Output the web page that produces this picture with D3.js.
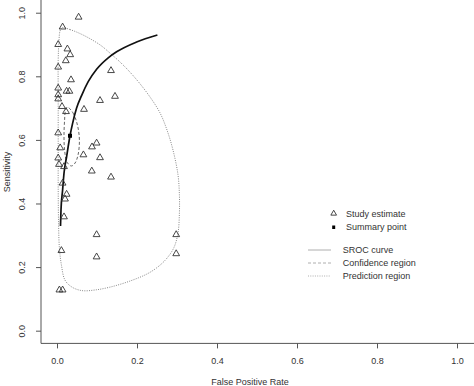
<!DOCTYPE html>
<html>
<head>
<meta charset="utf-8">
<script src="https://cdn.jsdelivr.net/npm/d3@7"></script>
<style>
  body { margin: 0; background: #fff; }
  svg { display: block; }
  text { font-family: "Liberation Sans", Arial, sans-serif; fill: #333; }
</style>
</head>
<body>
<div id="chart"></div>
<script>
// study estimates (false positive rate, sensitivity)
var studyFpr = [0.054, 0.014, 0.003, 0.026, 0.033, 0.022, 0.003, 0.135, 0.035, 0.003,
  0.024, 0.031, 0.003, 0.003, 0.145, 0.1075, 0.0125, 0.0675, 0.0225, 0.003,
  0.099, 0.0875, 0.008, 0.066, 0.1075, 0.003, 0.005, 0.0175, 0.087, 0.135,
  0.014, 0.024, 0.02, 0.0175, 0.099, 0.298, 0.011, 0.099, 0.298, 0.006, 0.014];
var studySens = [0.986, 0.955, 0.90, 0.886, 0.868, 0.849, 0.829, 0.818, 0.789, 0.763,
  0.753, 0.753, 0.742, 0.729, 0.737, 0.724, 0.705, 0.696, 0.689, 0.622,
  0.590, 0.578, 0.575, 0.553, 0.544, 0.543, 0.523, 0.516, 0.502, 0.483,
  0.464, 0.429, 0.414, 0.358, 0.302, 0.302, 0.252, 0.232, 0.242, 0.128, 0.128];

var summaryFpr = 0.0325;
var summarySens = 0.613;

// SROC curve
var srocFpr = [0.00875, 0.010, 0.014, 0.0175, 0.024, 0.0325, 0.039, 0.049, 0.062, 0.078,
  0.099, 0.128, 0.149, 0.199, 0.251];
var srocSens = [0.329, 0.380, 0.442, 0.495, 0.547, 0.613, 0.652, 0.700, 0.741, 0.783,
  0.822, 0.858, 0.877, 0.908, 0.930];

// confidence region
var confFpr = [0.026, 0.040, 0.051, 0.056, 0.0525, 0.045, 0.036, 0.025, 0.019, 0.0175, 0.019, 0.021];
var confSens = [0.703, 0.685, 0.647, 0.600, 0.552, 0.527, 0.518, 0.530, 0.568, 0.615, 0.663, 0.691];

// prediction region
var predFpr = [0.0125, 0.0325, 0.065, 0.1075, 0.1325, 0.165, 0.20, 0.2325, 0.2575, 0.275,
  0.29, 0.3025, 0.306, 0.306, 0.3025, 0.2925, 0.2775, 0.2575, 0.2275, 0.18,
  0.1325, 0.095, 0.0625, 0.0375, 0.02, 0.011, 0.006, 0.004, 0.003, 0.003,
  0.003, 0.003, 0.005, 0.0075];
var predSens = [0.953, 0.947, 0.930, 0.899, 0.873, 0.836, 0.788, 0.735, 0.685, 0.631,
  0.568, 0.490, 0.427, 0.370, 0.307, 0.262, 0.232, 0.206, 0.180, 0.155,
  0.137, 0.128, 0.126, 0.137, 0.159, 0.207, 0.260, 0.332, 0.442, 0.569,
  0.726, 0.851, 0.914, 0.942];

var ticks = [0, 0.2, 0.4, 0.6, 0.8, 1.0];
var pointLegend = ["Study estimate", "Summary point"];
var lineLegend = ["SROC curve", "Confidence region", "Prediction region"];

var svgWidth = 474;
var svgHeight = 386;

var svg = d3.select("#chart")
  .append("svg")
  .attr("width", svgWidth)
  .attr("height", svgHeight);

var xScale = d3.scaleLinear().domain([-0.04, 1.04]).range([41, 473]);
var yScale = d3.scaleLinear().domain([-0.04, 1.04]).range([343.4, 0]);

// axes
var xaxis = d3.axisBottom(xScale).tickValues(ticks).tickFormat(d3.format(".1f"))
  .tickSizeOuter(0).tickSize(5).tickPadding(9.5);
var yaxis = d3.axisLeft(yScale).tickValues(ticks).tickFormat(d3.format(".1f"))
  .tickSizeOuter(0).tickSize(5);

var gx = svg.append("g")
  .attr("transform", "translate(0," + 343.4 + ")")
  .call(xaxis);
gx.select(".domain").attr("d", "M41,0H474");

var gy = svg.append("g")
  .attr("transform", "translate(41,0)")
  .call(yaxis);
gy.select(".domain").attr("d", "M0,0V343.4");

svg.selectAll(".domain, .tick line").attr("stroke", "#555").attr("stroke-width", 1);
gx.selectAll("text").style("font-size", "9px").attr("fill", "#333");
gy.selectAll(".tick text")
  .style("font-size", "9px")
  .attr("fill", "#333")
  .attr("transform", "rotate(-90)")
  .attr("x", 0)
  .attr("y", -16)
  .attr("dy", 0)
  .attr("text-anchor", "middle");

// axis labels
svg.append("text")
  .attr("transform", "translate(10,172) rotate(-90)")
  .attr("text-anchor", "middle")
  .style("font-size", "9px")
  .text("Sensitivity");

svg.append("text")
  .attr("x", 250)
  .attr("y", 385)
  .attr("text-anchor", "middle")
  .style("font-size", "9px")
  .text("False Positive Rate");

var line = d3.line()
  .x(d => xScale(d[0]))
  .y(d => yScale(d[1]));

// prediction region
svg.append("path")
  .attr("d", line.curve(d3.curveCatmullRomClosed.alpha(0.5))(predFpr.map((f, i) => [f, predSens[i]])))
  .attr("fill", "none")
  .attr("stroke", "#888")
  .attr("stroke-width", 1)
  .attr("stroke-dasharray", "1,1.3");

// confidence region
svg.append("path")
  .attr("d", line.curve(d3.curveCatmullRomClosed.alpha(0.5))(confFpr.map((f, i) => [f, confSens[i]])))
  .attr("fill", "none")
  .attr("stroke", "#666")
  .attr("stroke-width", 1)
  .attr("stroke-dasharray", "3,2");

// SROC curve
svg.append("path")
  .attr("d", line.curve(d3.curveMonotoneX)(srocFpr.map((f, i) => [f, srocSens[i]])))
  .attr("fill", "none")
  .attr("stroke", "#111")
  .attr("stroke-width", 1.7);

// study triangles
var tri = d3.symbol().type(d3.symbolTriangle).size(20);
svg.selectAll(".study")
  .data(studyFpr.map((f, i) => [f, studySens[i]]))
  .enter()
  .append("path")
  .attr("class", "study")
  .attr("d", tri)
  .attr("transform", d => "translate(" + xScale(d[0]) + "," + yScale(d[1]) + ")")
  .attr("fill", "none")
  .attr("stroke", "#333")
  .attr("stroke-width", 0.9);

// summary point
svg.append("rect")
  .attr("x", xScale(summaryFpr) - 2)
  .attr("y", yScale(summarySens) - 2)
  .attr("width", 4)
  .attr("height", 4)
  .attr("fill", "#000");

// legend
var legendPts = svg.append("g");
legendPts.append("path")
  .attr("d", d3.symbol().type(d3.symbolTriangle).size(14)())
  .attr("transform", "translate(333.7,213.5)")
  .attr("fill", "none")
  .attr("stroke", "#333")
  .attr("stroke-width", 0.9);
legendPts.append("rect")
  .attr("x", 332.2).attr("y", 225.5).attr("width", 3).attr("height", 3.5)
  .attr("fill", "#000");
legendPts.selectAll("text")
  .data(pointLegend)
  .enter()
  .append("text")
  .attr("x", 346)
  .attr("y", (d, i) => 217 + i * 13.3)
  .style("font-size", "9px")
  .text(d => d);

var lineStyles = ["none", "3,2", "1,1.3"];
var legendLines = svg.append("g");
legendLines.selectAll("line")
  .data(lineLegend)
  .enter()
  .append("line")
  .attr("x1", 308).attr("x2", 331)
  .attr("y1", (d, i) => 250 + i * 13)
  .attr("y2", (d, i) => 250 + i * 13)
  .attr("stroke", "#999")
  .attr("stroke-width", 0.8)
  .attr("stroke-dasharray", (d, i) => lineStyles[i]);
legendLines.selectAll("text")
  .data(lineLegend)
  .enter()
  .append("text")
  .attr("x", 342.7)
  .attr("y", (d, i) => 253.3 + i * 13)
  .style("font-size", "9px")
  .text(d => d);
</script>
</body>
</html>
